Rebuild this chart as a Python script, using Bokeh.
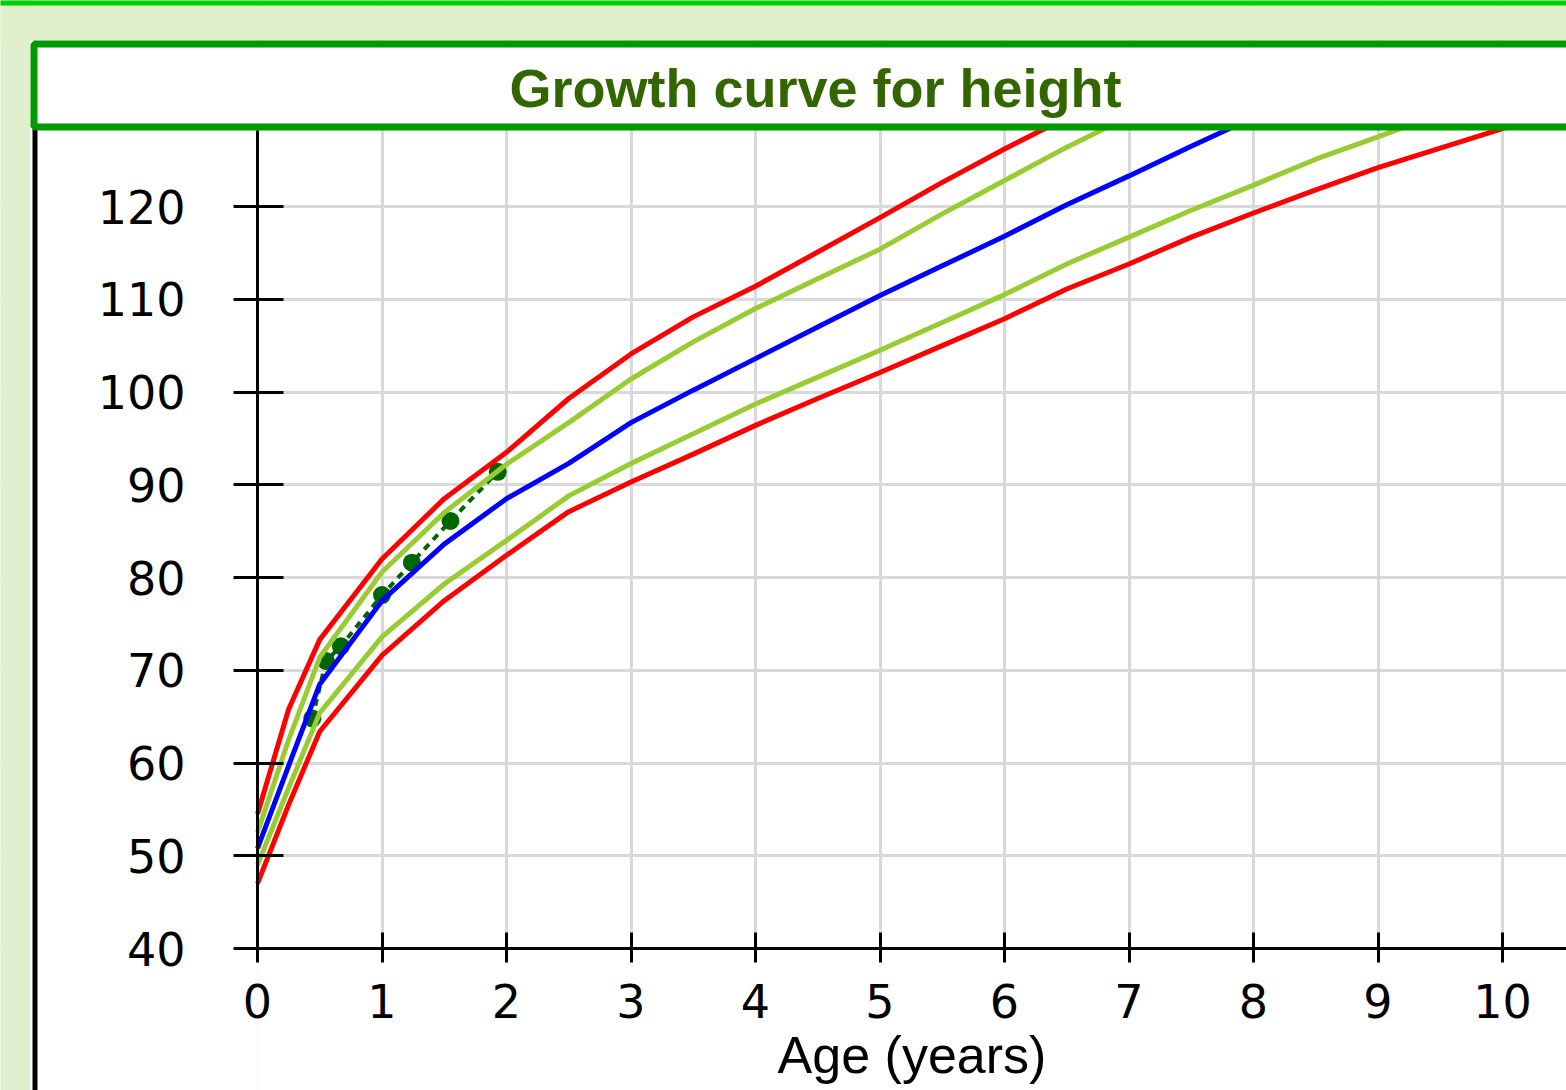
from bokeh.plotting import figure
from bokeh.models import Range1d, LinearAxis, FixedTicker, Grid, Label
from bokeh.embed import file_html
from bokeh.resources import INLINE

# ---------------- data ----------------
AGE_TICKS = [0, 1, 2, 3, 4, 5, 6, 7, 8, 9, 10]
HEIGHT_TICKS = [40, 50, 60, 70, 80, 90, 100, 110, 120]

ages = [0, 0.25, 0.5, 1, 1.5, 2, 2.5, 3, 3.5, 4, 4.5, 5, 5.5, 6, 6.5,
        7, 7.5, 8, 8.5, 9, 9.5, 10, 10.5]

red_upper = [54.5, 65.8, 73.3, 82.0, 88.5, 93.5, 99.3, 104.1, 108.1, 111.4,
             115.1, 118.8, 122.6, 126.2, 129.6]
green_upper = [52.5, 62.5, 71.4, 80.6, 87.0, 92.2, 96.7, 101.4, 105.4, 109.0,
               112.2, 115.4, 119.2, 122.8, 126.4, 129.7]
blue_median = [50.8, 59.7, 68.5, 77.5, 83.6, 88.5, 92.3, 96.7, 100.2, 103.6,
               107.0, 110.4, 113.6, 116.8, 120.2, 123.3, 126.5, 129.6]
green_lower = [49.0, 57.3, 65.4, 73.6, 79.3, 84.0, 88.8, 92.3, 95.5, 98.7,
               101.6, 104.5, 107.5, 110.5, 113.8, 116.7, 119.6, 122.3, 125.1,
               127.5, 130.0]
red_lower = [47.0, 55.5, 63.4, 71.6, 77.5, 82.4, 87.1, 90.3, 93.3, 96.4,
             99.3, 102.1, 105.0, 107.9, 111.1, 113.8, 116.7, 119.3, 121.8,
             124.2, 126.3, 128.4, 130.5]

child_age = [0.44, 0.55, 0.67, 1.0, 1.24, 1.55, 1.93]
child_height = [64.8, 71.0, 72.6, 78.1, 81.6, 86.1, 91.4]

TITLE = "Growth curve for height"
XLABEL = "Age (years)"

# ---------------- layout / styling ----------------
W, H = 1566, 1090
PX_PER_YEAR = 124.5
PX_PER_CM = 9.275
X0_PAGE, Y40_PAGE = 257.0, 948.0   # page position of age 0 / height 40

x_start = -X0_PAGE / PX_PER_YEAR
x_end = x_start + W / PX_PER_YEAR
y_end = 40 + Y40_PAGE / PX_PER_CM
y_start = y_end - H / PX_PER_CM


def px_x(px):
    return (px - X0_PAGE) / PX_PER_YEAR


def px_y(py):
    return 40 + (Y40_PAGE - py) / PX_PER_CM


LIGHT = "#e0f0cc"
TOPBAR = "#00cc00"
RED = "#ff0000"
LGREEN = "#99cc33"
BLUE = "#0000ff"
DGREEN = "#006600"
GRID = "#d9d9d9"
BOX = "#009900"
TITLE_COLOR = "#336600"

p = figure(width=W, height=H, output_backend="svg", toolbar_location=None,
           x_range=Range1d(x_start, x_end), y_range=Range1d(y_start, y_end),
           x_axis_type=None, y_axis_type=None,
           min_border_left=0, min_border_right=0, min_border_top=0, min_border_bottom=0,
           background_fill_color="white", border_fill_color=LIGHT,
           outline_line_color=None)

xticker = FixedTicker(ticks=AGE_TICKS, minor_ticks=[])
yticker = FixedTicker(ticks=HEIGHT_TICKS, minor_ticks=[])

p.add_layout(Grid(dimension=0, ticker=xticker, grid_line_color=GRID, grid_line_width=3))
p.add_layout(Grid(dimension=1, ticker=yticker, grid_line_color=GRID, grid_line_width=3))

# surroundings (page background, white area outside the axes)
p.quad(left=x_start - 1, right=px_x(30), bottom=y_start - 1, top=y_end + 1,
       fill_color=LIGHT, line_color=None)
p.quad(left=x_start - 1, right=x_end + 1, bottom=px_y(40), top=y_end + 1,
       fill_color=LIGHT, line_color=None)
p.quad(left=x_start - 1, right=x_end + 1, bottom=px_y(5), top=y_end + 1,
       fill_color=TOPBAR, line_color=None)
p.quad(left=px_x(30), right=0, bottom=y_start - 1, top=px_y(40),
       fill_color="white", line_color=None)
p.quad(left=0, right=x_end + 1, bottom=y_start - 1, top=40,
       fill_color="white", line_color=None)

# child's measurements
p.line(child_age, child_height, line_color=DGREEN, line_width=4, line_dash="7 6")
p.scatter(child_age, child_height, size=18, fill_color=DGREEN, line_color=None)

# reference curves
for vals, col in [(red_lower, RED), (green_lower, LGREEN), (blue_median, BLUE),
                  (green_upper, LGREEN), (red_upper, RED)]:
    p.line(ages[:len(vals)], vals, line_color=col, line_width=5)

# panel left border and title box
p.quad(left=px_x(32), right=px_x(37), bottom=y_start - 1, top=px_y(128),
       fill_color="black", line_color=None)
p.quad(left=px_x(33.5), right=x_end + 2, bottom=px_y(126.5), top=px_y(43.5),
       fill_color="white", line_color=BOX, line_width=7)
p.add_layout(Label(x=px_x(815), y=px_y(87), text=TITLE, text_align="center",
                   text_baseline="alphabetic", text_font="Liberation Sans",
                   text_font_size="54px", text_font_style="bold",
                   text_color=TITLE_COLOR))

# axes placed at age 0 / height 40
xax = LinearAxis(fixed_location=40, ticker=xticker, bounds=(0, 10.66),
                 axis_label=XLABEL, axis_line_width=3, axis_line_color="black",
                 major_tick_line_width=3, major_tick_in=16, major_tick_out=14,
                 minor_tick_line_color=None, major_label_standoff=21,
                 major_label_text_font="DejaVu Sans", major_label_text_font_size="46px",
                 major_label_text_color="black",
                 axis_label_text_font="Liberation Sans", axis_label_text_font_size="52px",
                 axis_label_text_font_style="normal", axis_label_text_color="black",
                 axis_label_standoff=5)
p.add_layout(xax, "below")

yax = LinearAxis(fixed_location=0, ticker=yticker, bounds=(40, px_y(130)),
                 axis_line_width=3, axis_line_color="black",
                 major_tick_line_width=3, major_tick_in=26, major_tick_out=24,
                 minor_tick_line_color=None, major_label_standoff=48,
                 major_label_text_font="DejaVu Sans", major_label_text_font_size="46px",
                 major_label_text_color="black")
p.add_layout(yax, "left")

open("out.html", "w").write(file_html(p, INLINE))
